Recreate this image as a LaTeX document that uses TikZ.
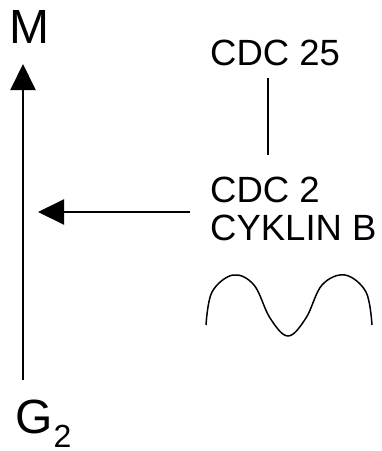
\documentclass[tikz,border=0pt]{standalone}
\usepackage{fontspec}
\setmainfont{Liberation Sans}
\usetikzlibrary{arrows.meta}
\begin{document}
\begin{tikzpicture}[x=1pt,y=-1pt,
  big/.style={anchor=base west,inner sep=0pt,font=\fontsize{48}{48}\selectfont},
  sub/.style={anchor=base west,inner sep=0pt,font=\fontsize{32}{32}\selectfont},
  lbl/.style={anchor=base west,inner sep=0pt,font=\fontsize{36.5}{36.5}\selectfont},
  arr/.style={line width=2pt,-{Triangle[length=26pt,width=25pt]}},
  ln/.style={line width=1.5pt}]
\useasboundingbox (0,0) rectangle (382,451);
\node[big] (m) at (9,43) {M};
\node[big] (g) at (15.6,433) {G};
\node[sub] (two) at (g.base east) [yshift=-14pt] {2};
\node[lbl] (c25) at (210,65) {CDC 25};
\node[lbl] (c2) at (210,202) {CDC 2};
\node[lbl] (cyk) at (210,240) {CYKLIN B};
\coordinate (vb) at (23,380);
\coordinate (vt) at (23,64);
\coordinate (hs) at (190,212);
\coordinate (ht) at (38,212);
\coordinate (lt) at (268,78);
\coordinate (lb) at (268,155);
\draw[arr] (vb) -- (vt);
\draw[arr] (hs) -- (ht);
\draw[ln] (lt) -- (lb);
\draw[ln] plot[smooth,tension=0.6] coordinates {(206,325) (212,292) (233,275) (254,285) (270,318) (288,336) (306,318) (322,285) (345,275) (366,292) (372,325)};
\end{tikzpicture}
\end{document}
